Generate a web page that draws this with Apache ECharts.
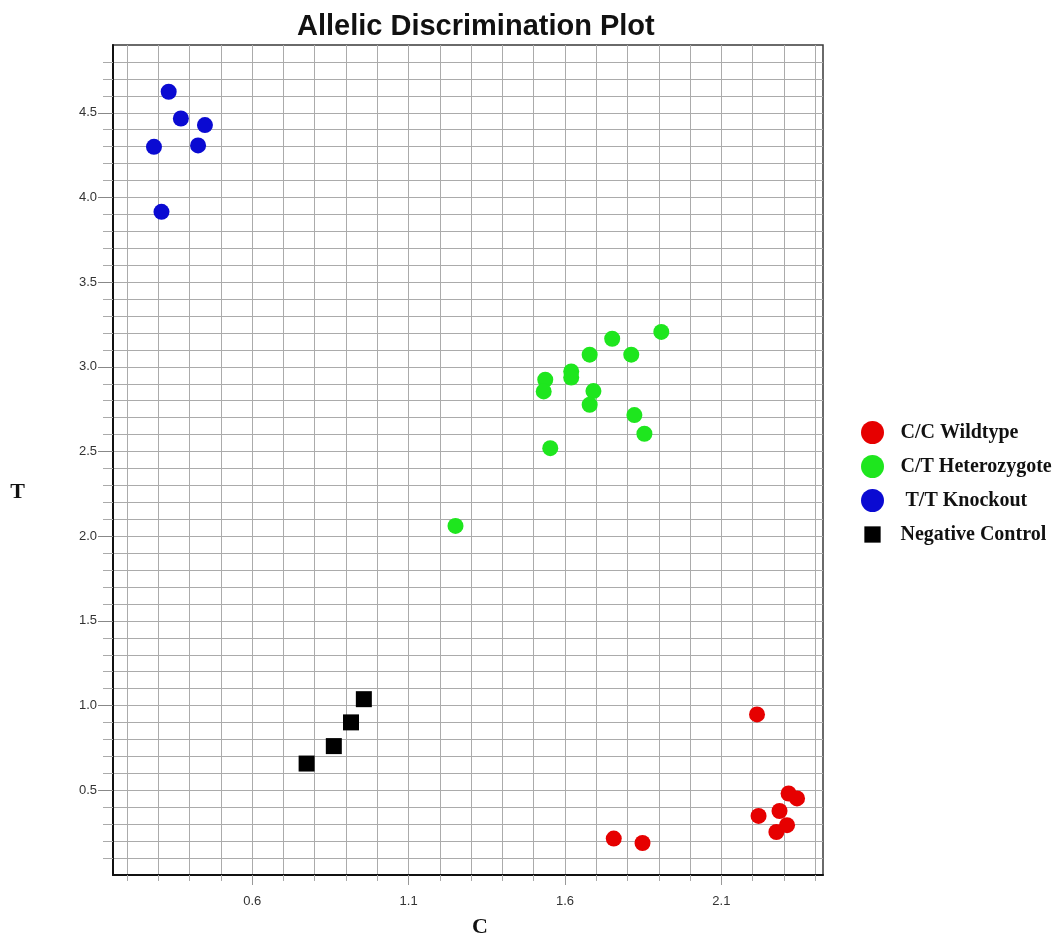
<!DOCTYPE html>
<html>
<head>
<meta charset="utf-8">
<title>Allelic Discrimination Plot</title>
<script src="https://cdn.jsdelivr.net/npm/echarts@6/dist/echarts.min.js"></script>
<style>
  html, body { margin: 0; padding: 0; background: #ffffff; }
  #chart { width: 1056px; height: 936px; }
</style>
</head>
<body>
<div id="chart"></div>
<script>
// ---- data: [C, T] ----
const WILDTYPE = [[2.214, 0.948], [2.315, 0.481], [2.342, 0.452], [2.286, 0.378], [2.219, 0.349],
                  [2.310, 0.294], [2.276, 0.254], [1.756, 0.215], [1.848, 0.189]];
const HETEROZYGOTE = [[1.908, 3.206], [1.751, 3.166], [1.679, 3.072], [1.812, 3.072], [1.620, 2.973],
                      [1.620, 2.937], [1.537, 2.924], [1.532, 2.855], [1.691, 2.857], [1.679, 2.776],
                      [1.822, 2.715], [1.854, 2.605], [1.553, 2.520], [1.250, 2.061]];
const KNOCKOUT = [[0.333, 4.624], [0.372, 4.466], [0.449, 4.427], [0.286, 4.299], [0.427, 4.307], [0.310, 3.915]];
const NEG_CONTROL = [[0.774, 0.658], [0.861, 0.761], [0.916, 0.901], [0.957, 1.038]];

const SERIES_NAMES = ['C/C Wildtype', 'C/T Heterozygote', ' T/T Knockout', 'Negative Control'];

// ---- axis ticks / labels ----
const C_MIN = 0.155, C_MAX = 2.425;
const T_MIN = 0, T_MAX = 4.9;
const C_MINOR_TICKS = [0.2, 0.3, 0.4, 0.5, 0.6, 0.7, 0.8, 0.9, 1.0, 1.1, 1.2, 1.3, 1.4, 1.5, 1.6, 1.7,
                       1.8, 1.9, 2.0, 2.1, 2.2, 2.3, 2.4];
const C_LABELS = [0.6, 1.1, 1.6, 2.1];
const T_MINOR_TICKS = [0.1, 0.2, 0.3, 0.4, 0.5, 0.6, 0.7, 0.8, 0.9, 1.0, 1.1, 1.2, 1.3, 1.4, 1.5, 1.6,
                       1.7, 1.8, 1.9, 2.0, 2.1, 2.2, 2.3, 2.4, 2.5, 2.6, 2.7, 2.8, 2.9, 3.0, 3.1, 3.2,
                       3.3, 3.4, 3.5, 3.6, 3.7, 3.8, 3.9, 4.0, 4.1, 4.2, 4.3, 4.4, 4.5, 4.6, 4.7, 4.8];
const T_LABELS = [0.5, 1.0, 1.5, 2.0, 2.5, 3.0, 3.5, 4.0, 4.5];

const COLORS = ['#e60000', '#1ee61e', '#0a0ad2', '#000000'];
const SQUARE_ICON = 'path://M0,0 M24,24 M3.5,3.5 L20.5,3.5 L20.5,20.5 L3.5,20.5 Z';

const chart = echarts.init(document.getElementById('chart'), null, { renderer: 'canvas' });

const gridColor = '#ababab';
const labelStyle = { color: '#333', fontFamily: 'Liberation Sans, Arial, sans-serif', fontSize: 13 };
const fmt = v => Number(v).toFixed(1);

const option = {
  animation: false,
  backgroundColor: '#ffffff',
  title: {
    text: 'Allelic Discrimination Plot',
    left: 297,
    top: 12,
    padding: 0,
    textStyle: { fontFamily: 'Liberation Sans, Arial, sans-serif', fontWeight: 'bold', fontSize: 29, color: '#111' }
  },
  legend: {
    orient: 'vertical',
    left: 861,
    top: 421,
    itemWidth: 24,
    itemHeight: 23,
    itemGap: 11,
    padding: 0,
    textStyle: { fontFamily: 'Liberation Serif, Times New Roman, serif', fontWeight: 'bold', fontSize: 20,
                 color: '#111', padding: [0, 0, 0, 11] },
    data: [
      { name: SERIES_NAMES[0], icon: 'circle' },
      { name: SERIES_NAMES[1], icon: 'circle' },
      { name: SERIES_NAMES[2], icon: 'circle' },
      { name: SERIES_NAMES[3], icon: SQUARE_ICON }
    ]
  },
  grid: {
    left: 113, right: 233, top: 45, bottom: 61,
    outerBoundsMode: 'none',
    containLabel: false,
    show: true, borderColor: '#3a3a3a', borderWidth: 1.5, backgroundColor: 'transparent'
  },
  xAxis: [
    {
      type: 'value', min: C_MIN, max: C_MAX, position: 'bottom',
      name: 'C', nameLocation: 'middle', nameGap: 41,
      nameTextStyle: { fontFamily: 'Liberation Serif, Times New Roman, serif', fontWeight: 'bold', fontSize: 22,
                       color: '#111', padding: [0, 0, 0, 24] },
      axisLine: { show: true, lineStyle: { color: '#111', width: 2 } },
      axisTick: { show: true, length: 6, customValues: C_MINOR_TICKS, lineStyle: { color: '#aaa', width: 1 } },
      axisLabel: { show: false },
      splitLine: { show: true, lineStyle: { color: gridColor, width: 1 } }
    },
    {
      type: 'value', min: C_MIN, max: C_MAX, position: 'bottom',
      axisLine: { show: false },
      axisTick: { show: true, length: 10, customValues: C_LABELS, lineStyle: { color: '#999', width: 1 } },
      axisLabel: { show: true, customValues: C_LABELS, margin: 20, formatter: fmt, ...labelStyle },
      splitLine: { show: false }
    }
  ],
  yAxis: [
    {
      type: 'value', min: T_MIN, max: T_MAX, position: 'left',
      name: 'T', nameLocation: 'middle', nameGap: 88, nameRotate: 0,
      nameTextStyle: { fontFamily: 'Liberation Serif, Times New Roman, serif', fontWeight: 'bold', fontSize: 22,
                       color: '#111', verticalAlign: 'top', lineHeight: 64 },
      axisLine: { show: true, lineStyle: { color: '#111', width: 2 } },
      axisTick: { show: true, length: 10, customValues: T_MINOR_TICKS, lineStyle: { color: '#aaa', width: 1 } },
      axisLabel: { show: false },
      splitLine: { show: true, lineStyle: { color: gridColor, width: 1 } }
    },
    {
      type: 'value', min: T_MIN, max: T_MAX, position: 'left',
      axisLine: { show: false },
      axisTick: { show: true, length: 15, customValues: T_LABELS, lineStyle: { color: '#888', width: 1 } },
      axisLabel: { show: true, customValues: T_LABELS, margin: 16, formatter: fmt, ...labelStyle },
      splitLine: { show: false }
    }
  ],
  series: [
    { name: SERIES_NAMES[0], type: 'scatter', data: WILDTYPE, symbol: 'circle', symbolSize: 16,
      itemStyle: { color: COLORS[0], opacity: 1 } },
    { name: SERIES_NAMES[1], type: 'scatter', data: HETEROZYGOTE, symbol: 'circle', symbolSize: 16,
      itemStyle: { color: COLORS[1], opacity: 1 } },
    { name: SERIES_NAMES[2], type: 'scatter', data: KNOCKOUT, symbol: 'circle', symbolSize: 16,
      itemStyle: { color: COLORS[2], opacity: 1 } },
    { name: SERIES_NAMES[3], type: 'scatter', data: NEG_CONTROL, symbol: 'rect', symbolSize: 16,
      itemStyle: { color: COLORS[3], opacity: 1 } }
  ]
};

chart.setOption(option);
</script>
</body>
</html>
